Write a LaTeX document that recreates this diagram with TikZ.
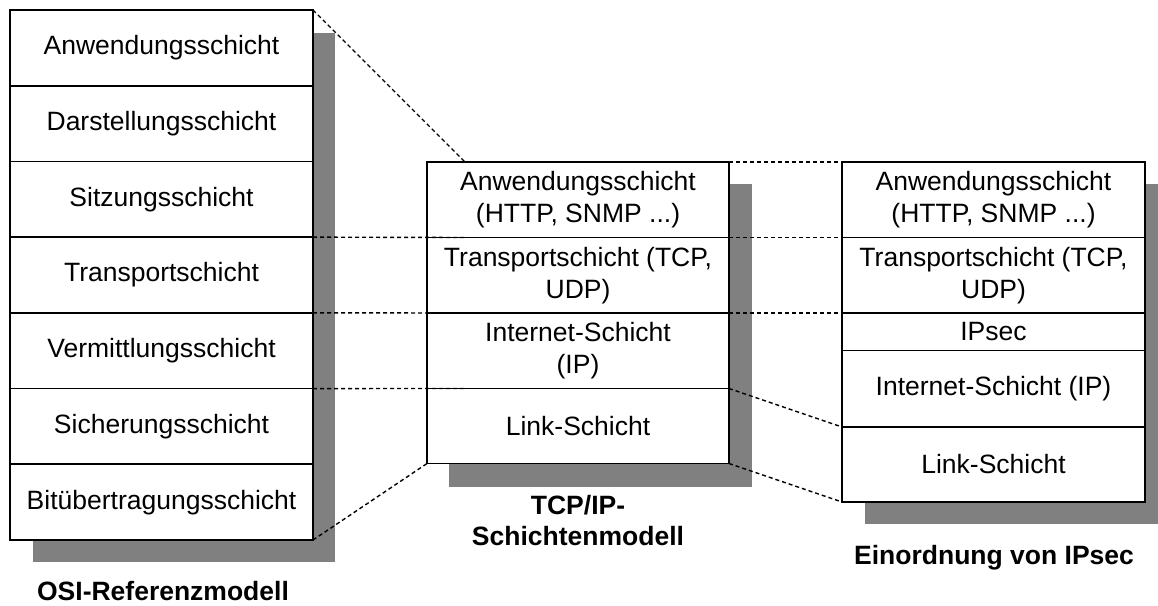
\documentclass[tikz,border=0pt]{standalone}
\usepackage{fontspec}
\setmainfont{Liberation Sans}
\usetikzlibrary{calc}
\definecolor{shadowgray}{HTML}{808080}
\begin{document}
\begin{tikzpicture}[x=1pt,y=-1pt,
  layer/.style={draw, line width=1.8pt, fill=white, anchor=north west, inner sep=0pt, outer sep=0pt, align=center, font=\fontsize{26.5}{32}\selectfont},
  osi/.style={layer, minimum width=303pt, minimum height=75.71pt},
  link/.style={line width=1.4pt, dash pattern=on 4pt off 3pt},
  caption/.style={font=\fontsize{26.5}{31}\selectfont\bfseries, align=center}]
\useasboundingbox (0,0) rectangle (1158,605);

% shadows
\fill[shadowgray] (33,33) rectangle (335,562);
\fill[shadowgray] (449,184) rectangle (752,487);
\fill[shadowgray] (865,184) rectangle (1167,524);

% OSI model
\node[osi] (o1) at (10,10) {Anwendungsschicht};
\node[osi] (o2) at (10,85.71) {Darstellungsschicht};
\node[osi] (o3) at (10,161.43) {Sitzungsschicht};
\node[osi] (o4) at (10,237.14) {Transportschicht};
\node[osi] (o5) at (10,312.86) {Vermittlungsschicht};
\node[osi] (o6) at (10,388.57) {Sicherungsschicht};
\node[osi] (o7) at (10,464.29) {Bitübertragungsschicht};

% TCP/IP model
\node[layer, minimum width=302pt, minimum height=75.5pt] (t1) at (427,162) {Anwendungsschicht\\(HTTP, SNMP ...)};
\node[layer, minimum width=302pt, minimum height=75.5pt] (t2) at (427,237.5) {Transportschicht (TCP,\\UDP)};
\node[layer, minimum width=302pt, minimum height=75.5pt] (t3) at (427,313) {Internet-Schicht\\(IP)};
\node[layer, minimum width=302pt, minimum height=75pt] (t4) at (427,388.5) {Link-Schicht};

% IPsec
\node[layer, minimum width=303pt, minimum height=75.5pt] (i1) at (842,162) {Anwendungsschicht\\(HTTP, SNMP ...)};
\node[layer, minimum width=303pt, minimum height=75.5pt] (i2) at (842,237.5) {Transportschicht (TCP,\\UDP)};
\node[layer, minimum width=303pt, minimum height=37.5pt] (i3) at (842,313) {IPsec};
\node[layer, minimum width=303pt, minimum height=76.5pt] (i4) at (842,350.5) {Internet-Schicht (IP)};
\node[layer, minimum width=303pt, minimum height=75pt] (i5) at (842,427) {Link-Schicht};

% dashed connectors
\draw[link] (o1.north east) -- ($(t1.north west)+(38,0)$);
\draw[link] (t1.north east) -- ($(i1.north west)+(36,0)$);
\draw[link] (o3.south east) -- ($(t1.south west)+(38,0)$);
\draw[link] (t1.south east) -- ($(i1.south west)+(36,0)$);
\draw[link] (o4.south east) -- ($(t2.south west)+(38,0)$);
\draw[link] (t2.south east) -- ($(i2.south west)+(36,0)$);
\draw[link] (o5.south east) -- ($(t3.south west)+(38,0)$);
\draw[link] (o7.south east) -- (t4.south west);
\draw[link] (t3.south east) -- (i4.south west);
\draw[link] (t4.south east) -- (i5.south west);

% captions
\node[caption] (cosi) at (163,591) {OSI-Referenzmodell};
\node[caption] (ctcp) at (578,520.5) {TCP/IP-\\Schichtenmodell};
\node[caption] (cips) at (994,558) {Einordnung von IPsec};
\end{tikzpicture}
\end{document}
